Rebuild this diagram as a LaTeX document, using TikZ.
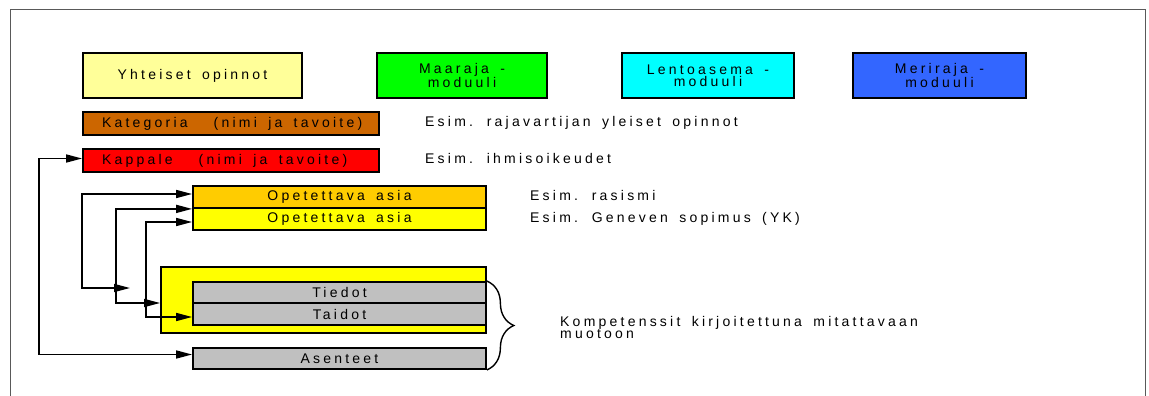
\documentclass[tikz,border=0pt]{standalone}
\usepackage{fontspec}
\newfontfamily\widesans[LetterSpace=23,WordSpace=1.6]{Liberation Sans}
\usetikzlibrary{arrows.meta,decorations.pathreplacing}
\definecolor{paleyellow}{HTML}{FFFF99}
\definecolor{landgreen}{HTML}{00FF00}
\definecolor{aircyan}{HTML}{00FFFF}
\definecolor{seablue}{HTML}{3366FF}
\definecolor{catbrown}{HTML}{CC6600}
\definecolor{chapred}{HTML}{FF0000}
\definecolor{topicorange}{HTML}{FFCC00}
\definecolor{topicyellow}{HTML}{FFFF00}
\definecolor{compgray}{HTML}{C0C0C0}
\newcommand\barlabel[2]{\makebox[258pt][l]{#1\hspace{26pt}#2}}
\begin{document}
\begin{tikzpicture}[x=1pt,y=-1pt,
  every node/.style={font=\widesans\fontsize{14}{12}\selectfont},
  box/.style={draw,line width=1.8pt,inner sep=0pt,align=center},
  module/.style={box,minimum height=45pt},
  titlebar/.style={box,minimum height=23pt,minimum width=296pt},
  bar/.style={box,minimum width=293pt,minimum height=22pt},
  conn/.style={line width=1.6pt,{Triangle[length=16pt,width=8pt]}-{Triangle[length=16pt,width=8pt]}},
  note/.style={anchor=west,inner sep=0pt,align=left}]
\useasboundingbox (0,0) rectangle (1149,396);
\draw[gray!70!black,line width=1pt] (10,396) -- (10,10) -- (1145,10) -- (1145,396);
\node[module,fill=paleyellow,minimum width=219pt] (yht) at (192.5,75.5) {Yhteiset opinnot};
\node[module,fill=landgreen,minimum width=170pt] (maa) at (462,75.5) {Maaraja -\\moduuli};
\node[module,fill=aircyan,minimum width=172pt] (len) at (708,75.5) {Lentoasema -\\moduuli};
\node[module,fill=seablue,minimum width=173pt] (mer) at (939.5,75.5) {Meriraja -\\moduuli};
\node[titlebar,fill=catbrown] (kat) at (231,123.5) {\barlabel{Kategoria}{(nimi ja tavoite)}};
\node[titlebar,fill=chapred] (kap) at (231,160.5) {\barlabel{Kappale}{(nimi ja tavoite)}};
\node[bar,fill=topicorange] (ope1) at (339.5,197) {Opetettava asia};
\node[bar,fill=topicyellow] (ope2) at (339.5,219) {Opetettava asia};
\node[box,fill=topicyellow,minimum width=325pt,minimum height=66pt] (cont) at (323.5,300) {};
\node[bar,fill=compgray,minimum height=21pt] (tie) at (339.5,292.5) {Tiedot};
\node[bar,fill=compgray] (tai) at (339.5,314) {Taidot};
\node[bar,fill=compgray,minimum height=21pt] (ase) at (339.5,358.5) {Asenteet};
\node[note] (lkat) at (425,123) {Esim. rajavartijan yleiset opinnot};
\node[note] (lkap) at (425,158) {Esim. ihmisoikeudet};
\node[note] (lope1) at (530,195) {Esim. rasismi};
\node[note] (lope2) at (530,219) {Esim. Geneven sopimus (YK)};
\node[note] (komp) at (560,327) {Kompetenssit kirjoitettuna mitattavaan\\muotoon};
\coordinate (enda) at (130,288);
\draw[conn] ([yshift=2pt]kap.west) -- +(-43,0) |- ([yshift=4pt]ase.west);
\draw[conn] ([yshift=3pt]ope1.west) -- +(-110,0) |- (enda);
\draw[conn] (ope1.south west) -- +(-76,0) |- ([yshift=-3pt]cont.west);
\draw[conn] ([yshift=-3pt]ope2.west) -- +(-46,0) |- ([yshift=-3pt]tai.west);
\draw[decorate,decoration={brace,amplitude=27pt},line width=1.4pt] (tie.north east) -- (ase.south east);
\end{tikzpicture}
\end{document}
